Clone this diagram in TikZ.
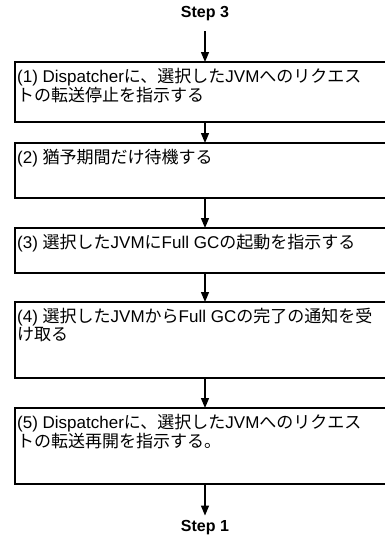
\documentclass[tikz,border=0pt]{standalone}
\usepackage{fontspec}
\setmainfont{Liberation Sans}
\newfontfamily\jp{Noto Sans CJK JP}
\usetikzlibrary{arrows.meta}
\begin{document}
\begin{tikzpicture}[x=1pt,y=-1pt,
  box/.style={draw, line width=1.3pt, minimum width=380pt, minimum height=#1, anchor=north west, inner sep=0pt, outer sep=0pt},
  txt/.style={anchor=north west, align=left, inner sep=0pt, font=\fontsize{17}{16}\selectfont},
  steplabel/.style={inner sep=0pt, font=\bfseries\fontsize{16}{18}\selectfont},
  arr/.style={-{Triangle[width=8pt,length=10pt]}, line width=1.3pt}]
\useasboundingbox (0,0) rectangle (385,536);
\clip (0,0) rectangle (385,536);
\node[steplabel] (s3) at (205,14) {Step 3};
\node[steplabel] (s1) at (205,528) {Step 1};
\node[box=60pt] (b1) at (15,62) {};
\node[box=55pt] (b2) at (15,143) {};
\node[box=45pt] (b3) at (15,228) {};
\node[box=76pt] (b4) at (15,302) {};
\node[box=76pt] (b5) at (15,408) {};
\node[txt] (t1) at ([xshift=2pt,yshift=-6pt]b1.north west) {(1) Dispatcher{\jp に、選択した}JVM{\jp へのリクエス}\\{\jp トの転送停止を指示する}};
\node[txt] (t2) at ([xshift=2pt,yshift=-6pt]b2.north west) {(2) {\jp 猶予期間だけ待機する}};
\node[txt] (t3) at ([xshift=2pt,yshift=-6pt]b3.north west) {(3) {\jp 選択した}JVM{\jp に}Full GC{\jp の起動を指示する}};
\node[txt] (t4) at ([xshift=2pt,yshift=-6pt]b4.north west) {(4) {\jp 選択した}JVM{\jp から}Full GC{\jp の完了の通知を受}\\{\jp け取る}};
\node[txt] (t5) at ([xshift=2pt,yshift=-6pt]b5.north west) {(5) Dispatcher{\jp に、選択した}JVM{\jp へのリクエス}\\{\jp トの転送再開を指示する。}};
\draw[arr] ([yshift=-10pt]s3.south) -- (b1.north);
\draw[arr] (b1.south) -- (b2.north);
\draw[arr] (b2.south) -- (b3.north);
\draw[arr] (b3.south) -- (b4.north);
\draw[arr] (b4.south) -- (b5.north);
\draw[arr] (b5.south) -- ([yshift=5pt]s1.north);
\end{tikzpicture}
\end{document}
